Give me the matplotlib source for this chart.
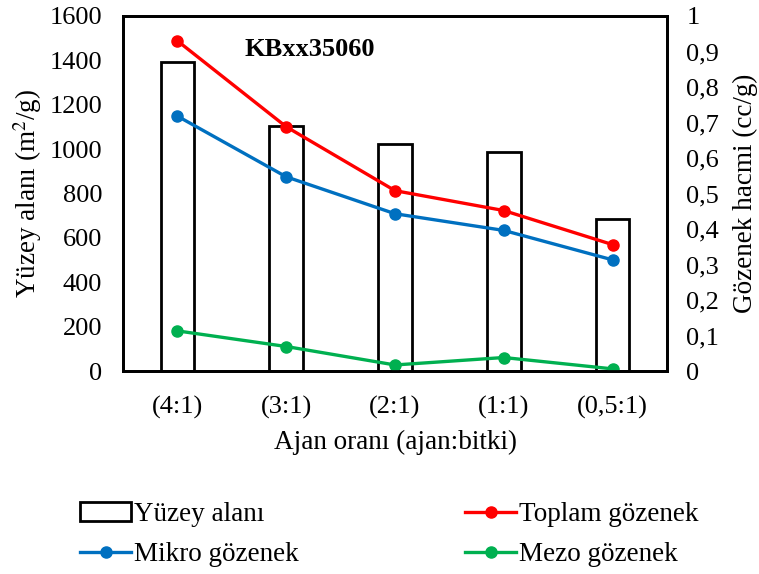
import numpy as np
import matplotlib.pyplot as plt
from matplotlib.ticker import FuncFormatter

plt.rcParams['font.family'] = ['Liberation Serif', 'DejaVu Serif']
plt.rcParams['mathtext.fontset'] = 'stix'

oranlar = ["(4:1)", "(3:1)", "(2:1)", "(1:1)", "(0,5:1)"]
yuzey_alani = [1392, 1104, 1022, 988, 686]
toplam = [0.93, 0.688, 0.508, 0.452, 0.356]
mikro = [0.718, 0.547, 0.443, 0.396, 0.313]
mezo = [0.113, 0.069, 0.017, 0.038, 0.006]

W, H = 759, 574
fig = plt.figure(figsize=(W / 100, H / 100), dpi=100)
ax = fig.add_axes([123 / W, 1 - 371 / H, 544 / W, 355 / H])
ax2 = ax.twinx()

x = np.arange(len(oranlar))
bars = ax.bar(x, yuzey_alani, width=0.31, facecolor='white', edgecolor='black',
              linewidth=2, label='Yüzey alanı', zorder=2)

l_top, = ax2.plot(x, toplam, color='#FF0000', lw=2.4, marker='o', ms=8, label='Toplam gözenek')
l_mik, = ax2.plot(x, mikro, color='#0070C0', lw=2.4, marker='o', ms=8, label='Mikro gözenek')
l_mez, = ax2.plot(x, mezo, color='#00B050', lw=2.4, marker='o', ms=8, label='Mezo gözenek')

ax.set_xlim(-0.5, len(oranlar) - 0.5)
ax.set_ylim(0, 1600)
ax.set_yticks(np.arange(0, 1601, 200))
ax2.set_ylim(0, 1)
ax2.set_yticks(np.arange(0, 1.01, 0.1))
ax2.yaxis.set_major_formatter(FuncFormatter(
    lambda v, p: '0' if abs(v) < 1e-9 else ('1' if abs(v - 1) < 1e-9 else f'{v:.1f}'.replace('.', ','))))

ax.set_xticks(x)
ax.set_xticklabels(oranlar)
ax.tick_params(axis='x', length=0, pad=18, labelsize=19)
ax.tick_params(axis='y', length=0, pad=15, labelsize=19)
ax2.tick_params(axis='y', length=0, pad=14, labelsize=19)

for a in (ax, ax2):
    for s in a.spines.values():
        s.set_linewidth(2)

ax.set_ylabel('Yüzey alanı (m$^2$/g)', fontsize=19.5, labelpad=4)
ax2.set_ylabel('Gözenek hacmi (cc/g)', fontsize=19.5, labelpad=10)
ax.set_xlabel('Ajan oranı (ajan:bitki)', fontsize=19.5, labelpad=8)

ax.text(0.344, 0.905, 'KBxx35060', transform=ax.transAxes, fontsize=19,
        fontweight='bold', ha='center', va='center')

# two single-column legends placed side by side under the axes
leg_kw = dict(loc='upper left', frameon=False, fontsize=19.5, handlelength=1.9,
              handletextpad=0.1, labelspacing=0.56, borderpad=0, borderaxespad=0)
leg1 = fig.legend([bars, l_mik], ['Yüzey alanı', 'Mikro gözenek'],
                  bbox_to_anchor=(80 / W, 1 - 502 / H), **leg_kw)
leg2 = fig.legend([l_top, l_mez], ['Toplam gözenek', 'Mezo gözenek'],
                  bbox_to_anchor=(465 / W, 1 - 502 / H), **leg_kw)

fig.savefig('out.png', dpi=100)
